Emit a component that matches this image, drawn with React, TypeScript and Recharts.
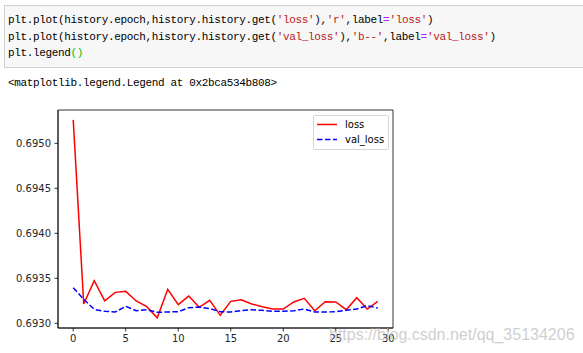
import React from 'react'
import { LineChart, Line, XAxis, YAxis, ReferenceArea } from 'recharts'

const epochs = [0, 1, 2, 3, 4, 5, 6, 7, 8, 9, 10, 11, 12, 13, 14, 15, 16, 17, 18, 19, 20, 21, 22, 23, 24, 25, 26, 27, 28, 29]
const loss = [
  0.69526, 0.693215, 0.693473, 0.693251, 0.693344, 0.693355, 0.693248, 0.693185, 0.693062, 0.693378,
  0.693207, 0.693303, 0.693178, 0.693255, 0.693089, 0.693244, 0.693262, 0.693215, 0.693185, 0.693159,
  0.693159, 0.693237, 0.693278, 0.69314, 0.69324, 0.693237, 0.693151, 0.693285, 0.693159, 0.693244,
]
const valLoss = [
  0.693396, 0.693267, 0.693155, 0.693133, 0.693126, 0.693189, 0.69314, 0.693151, 0.693122, 0.693126,
  0.693129, 0.693174, 0.693181, 0.693163, 0.693129, 0.693126, 0.69314, 0.693151, 0.693144, 0.693133,
  0.693133, 0.69314, 0.693159, 0.693126, 0.693126, 0.693129, 0.693144, 0.693159, 0.693196, 0.69317,
]
const xTicks = [0, 5, 10, 15, 20, 25, 30]
const yTicks = [0.693, 0.6935, 0.694, 0.6945, 0.695]
const xDomain = [-1.45, 30.45]
const yDomain = [0.692948, 0.69537]

const data = epochs.map((epoch, i) => ({ epoch, loss: loss[i], val_loss: valLoss[i] }))

const mono = "'Liberation Mono', 'DejaVu Sans Mono', monospace"
const str = '#ba2121'
const op = '#aa22ff'

const codeLine: React.CSSProperties = {
  position: 'absolute',
  left: 8,
  height: 16,
  lineHeight: '16px',
  fontFamily: mono,
  fontSize: 11,
  letterSpacing: -0.35,
  whiteSpace: 'pre',
  color: '#000',
}

const tickStyle = { fontFamily: 'DejaVu Sans', fontSize: 10, fill: '#262626' }

const App: React.FC = () => {
  return (
    <div style={{ position: 'fixed', left: 0, top: 0, width: 583, height: 353, background: '#fff', overflow: 'hidden' }}>
      <div style={{ position: 'absolute', left: 0, top: 0 }}>
        <LineChart width={583} height={353} data={data} margin={{ top: 110, right: 190, left: 0, bottom: 0 }}>
          <XAxis
            dataKey='epoch'
            type='number'
            domain={xDomain}
            ticks={xTicks}
            allowDataOverflow
            height={25}
            tickSize={3.5}
            tickMargin={3.5}
            tick={tickStyle}
            stroke='#000'
            strokeWidth={0.8}
          />
          <YAxis
            type='number'
            domain={yDomain}
            ticks={yTicks}
            allowDataOverflow
            width={58}
            tickSize={3.5}
            tickMargin={3.5}
            tick={tickStyle}
            tickFormatter={(v: number) => v.toFixed(4)}
            stroke='#000'
            strokeWidth={0.8}
          />
          <ReferenceArea x1={xDomain[0]} x2={xDomain[1]} y1={yDomain[0]} y2={yDomain[1]} fill='none' stroke='#000' strokeWidth={0.8} fillOpacity={0} />
          <Line dataKey='loss' stroke='#ff0000' strokeWidth={1.5} dot={false} isAnimationActive={false} />
          <Line dataKey='val_loss' stroke='#0000ff' strokeWidth={1.5} strokeDasharray='5.55 2.4' dot={false} isAnimationActive={false} />
        </LineChart>
      </div>

      {/* legend, matplotlib style */}
      <div style={{ position: 'absolute', left: 313, top: 115, width: 74, height: 33, border: '1px solid #d6d6d6', borderRadius: 2, background: 'rgba(255,255,255,0.8)', fontFamily: 'DejaVu Sans', fontSize: 10, color: '#000' }}>
        <svg width={24} height={33} style={{ position: 'absolute', left: 2, top: 0 }}>
          <line x1={1} x2={21} y1={8.5} y2={8.5} stroke='#ff0000' strokeWidth={1.5} />
          <line x1={1} x2={21} y1={23.5} y2={23.5} stroke='#0000ff' strokeWidth={1.5} strokeDasharray='5.55 2.4' />
        </svg>
        <div style={{ position: 'absolute', left: 31, top: 2, lineHeight: '13px' }}>loss</div>
        <div style={{ position: 'absolute', left: 31, top: 17, lineHeight: '13px' }}>val_loss</div>
      </div>

      {/* code cell */}
      <div style={{ position: 'absolute', left: 4, top: 5, width: 590, height: 61, background: '#f7f7f7', border: '1px solid #cfcfcf' }} />
      <div style={{ ...codeLine, top: 12 }}>
        plt.plot(history.epoch,history.history.get(<span style={{ color: str }}>'loss'</span>),<span style={{ color: str }}>'r'</span>,label<span style={{ color: op }}>=</span><span style={{ color: str }}>'loss'</span>)
      </div>
      <div style={{ ...codeLine, top: 28.5 }}>
        plt.plot(history.epoch,history.history.get(<span style={{ color: str }}>'val_loss'</span>),<span style={{ color: str }}>'b--'</span>,label<span style={{ color: op }}>=</span><span style={{ color: str }}>'val_loss'</span>)
      </div>
      <div style={{ ...codeLine, top: 45 }}>
        plt.legend<span style={{ color: '#00bb00' }}>()</span>
      </div>
      <div style={{ ...codeLine, top: 75 }}>{'<matplotlib.legend.Legend at 0x2bca534b808>'}</div>

      {/* watermark */}
      <div style={{ position: 'absolute', left: 329, top: 326, fontFamily: "'Liberation Sans', Arial, sans-serif", fontSize: 16, lineHeight: '18px', color: 'rgba(190,190,190,0.75)', whiteSpace: 'pre' }}>
        https://blog.csdn.net/qq_35134206
      </div>
    </div>
  )
}

export default App
